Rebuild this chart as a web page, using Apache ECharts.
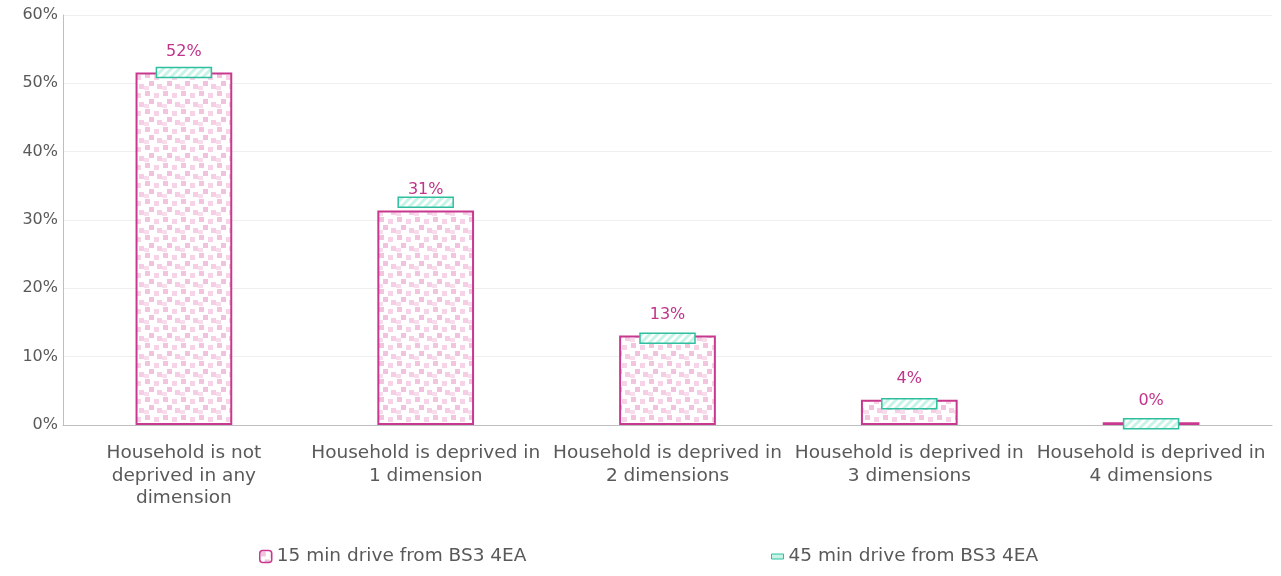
<!DOCTYPE html>
<html><head><meta charset="utf-8">
<script src="https://cdn.jsdelivr.net/npm/echarts@6/dist/echarts.min.js"></script>
<style>html,body{margin:0;padding:0;background:#fff}#c{width:1281px;height:576px}</style>
</head><body><div id="c"></div>
<script>
const categories = ['Household is not\ndeprived in any\ndimension','Household is deprived in\n1 dimension','Household is deprived in\n2 dimensions','Household is deprived in\n3 dimensions','Household is deprived in\n4 dimensions'];
const drive15 = [51.6, 31.4, 13.1, 3.7, 0.4];
const drive45 = [51.6, 32.6, 12.7, 3.1, 0.2];
const labels = ['52%','31%','13%','4%','0%'];

function pinkPattern(){
  const s=18;const c=document.createElement('canvas');c.width=s;c.height=s;
  const g=c.getContext('2d');g.fillStyle='#fff';g.fillRect(0,0,s,s);
  const sq=[[1,1,'#f3c4de'],[10,3,'#f6d3e7'],[5,9,'#f1c2dd'],[13,12,'#f5cde4'],[0,14,'#f8dcec']];
  sq.forEach(([x,y,col])=>{g.fillStyle=col;g.fillRect(x,y,5,5);});
  return c;
}
function tealPattern(){
  const c=document.createElement('canvas');c.width=8;c.height=8;
  const g=c.getContext('2d');g.fillStyle='#fff';g.fillRect(0,0,8,8);
  g.strokeStyle='#c8f4e7';g.lineWidth=3;
  g.beginPath();g.moveTo(-2,10);g.lineTo(10,-2);g.moveTo(-6,6);g.lineTo(6,-6);g.moveTo(2,14);g.lineTo(14,2);g.stroke();
  return c;
}
const pinkImg=pinkPattern(), tealImg=tealPattern();
const font='"DejaVu Sans", sans-serif';
const chart=echarts.init(document.getElementById('c'));
chart.setOption({
  animation:false,
  grid:{left:63,right:9,top:15,bottom:151},
  xAxis:{type:'category',data:categories,
    axisLine:{lineStyle:{color:'#bfbfbf'}},axisTick:{show:false},
    axisLabel:{color:'#595959',fontSize:18.5,fontFamily:font,lineHeight:22.5,interval:0,margin:17}},
  yAxis:{type:'value',min:0,max:60,interval:10,
    axisLine:{show:true,lineStyle:{color:'#bfbfbf'}},
    splitLine:{lineStyle:{color:'#efefef'}},
    axisLabel:{color:'#595959',fontSize:16,fontFamily:font,margin:5,formatter:v=>v+'%'}},
  legend:[{data:[{name:'15 min drive from BS3 4EA',itemStyle:{color:{image:pinkImg,repeat:'repeat'},borderColor:'#c8388f',borderWidth:1.5}}],
      left:254,bottom:5,itemWidth:12,itemHeight:12,
      textStyle:{color:'#595959',fontSize:18.5,fontFamily:font},itemGap:4},
    {data:[{name:'45 min drive from BS3 4EA',icon:'rect',itemStyle:{color:'#c8f4e7',borderColor:'#2fbf9f',borderWidth:1}}],
      left:766,bottom:5,itemWidth:12,itemHeight:5,
      textStyle:{color:'#595959',fontSize:18.5,fontFamily:font}}],
  series:[
    {name:'15 min drive from BS3 4EA',type:'bar',data:drive15,barWidth:'40%',z:2,
      itemStyle:{color:{image:pinkImg,repeat:'repeat'},borderColor:'#c8388f',borderWidth:2},
      label:{show:true,position:'top',distance:13,color:'#c0338a',fontSize:16,fontFamily:font,
        formatter:p=>labels[p.dataIndex]}},
    {name:'45 min drive from BS3 4EA',type:'custom',data:drive45.map((v,i)=>[i,v]),z:5,
      encode:{x:0,y:1},
      itemStyle:{color:'#c8f4e7',borderColor:'#2fbf9f'},
      renderItem:(params,api)=>{
        const p=api.coord([api.value(0),api.value(1)]);
        const w=55,h=10;
        return {type:'rect',shape:{x:p[0]-w/2,y:p[1]-h/2,width:w,height:h},
           style:{fill:{image:tealImg,repeat:'repeat'},stroke:'#2fbf9f',lineWidth:1.5}};
      }}
  ]
});
</script></body></html>
